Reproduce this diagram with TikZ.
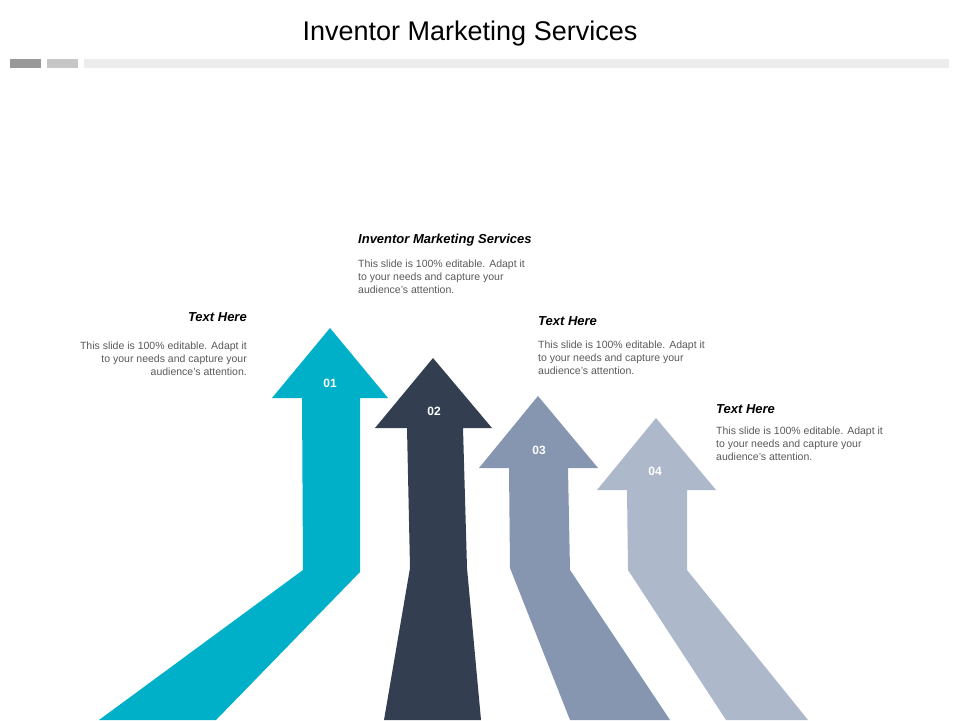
\documentclass[tikz,border=0pt]{standalone}
\usepackage{fontspec}
\setmainfont{Liberation Sans}
\definecolor{teal1}{HTML}{00B0C8}
\definecolor{navy2}{HTML}{333F50}
\definecolor{slate3}{HTML}{8796B0}
\definecolor{pale4}{HTML}{ADB9CA}
\definecolor{txtgray}{HTML}{595959}
\begin{document}
\begin{tikzpicture}[x=1pt,y=-1pt,
  head/.style={font=\bfseries\itshape\fontsize{13}{15}\selectfont, inner sep=0pt},
  body/.style={font=\fontsize{10.5}{13}\selectfont, text=txtgray, inner sep=0pt, align=left},
  num/.style={font=\bfseries\fontsize{12}{14}\selectfont, text=white}]
\useasboundingbox (0,0) rectangle (960,720);

% title and rule
\node (title) at (470,34) {\fontsize{27}{32}\selectfont Inventor Marketing Services};
\fill[gray!80] (10,59) rectangle (41,68);
\fill[gray!45] (47,59) rectangle (78,68);
\fill[gray!15] (84,59) rectangle (949,68);

% arrow 01
\fill[teal1] (99,720) -- (303,570) -- (302,398) -- (272,398) -- (330,328)
  -- (388,398) -- (360,398) -- (360,572) -- (216,720) -- cycle;
% arrow 02
\fill[navy2] (384,720) -- (410,568) -- (407,428) -- (375,428) -- (433,358)
  -- (492,428) -- (463,428) -- (467,568) -- (481,720) -- cycle;
% arrow 03
\fill[slate3] (570,720) -- (510,568) -- (509,468) -- (479,468) -- (538,396)
  -- (598,468) -- (568,468) -- (570,570) -- (670,720) -- cycle;
% arrow 04
\fill[pale4] (726,720) -- (628,570) -- (627,490) -- (597,490) -- (656,418)
  -- (716,490) -- (687,490) -- (687,570) -- (808,720) -- cycle;

\node[num] (n1) at (330,383) {01};
\node[num] (n2) at (434,411) {02};
\node[num] (n3) at (539,450) {03};
\node[num] (n4) at (655,471) {04};

% texts
\node[head, anchor=north east] (h1) at (247,312) {Text Here};
\node[body, align=right, anchor=north east] (b1) at (247,342)
  {This slide is 100\% editable. Adapt it\\to your needs and capture your\\audience's attention.};
\node[head, anchor=north west] (h2) at (358,234) {Inventor Marketing Services};
\node[body, anchor=north west] (b2) at (358,260)
  {This slide is 100\% editable. Adapt it\\to your needs and capture your\\audience's attention.};
\node[head, anchor=north west] (h3) at (538,316) {Text Here};
\node[body, anchor=north west] (b3) at (538,341)
  {This slide is 100\% editable. Adapt it\\to your needs and capture your\\audience's attention.};
\node[head, anchor=north west] (h4) at (716,404) {Text Here};
\node[body, anchor=north west] (b4) at (716,427)
  {This slide is 100\% editable. Adapt it\\to your needs and capture your\\audience's attention.};
\end{tikzpicture}
\end{document}
